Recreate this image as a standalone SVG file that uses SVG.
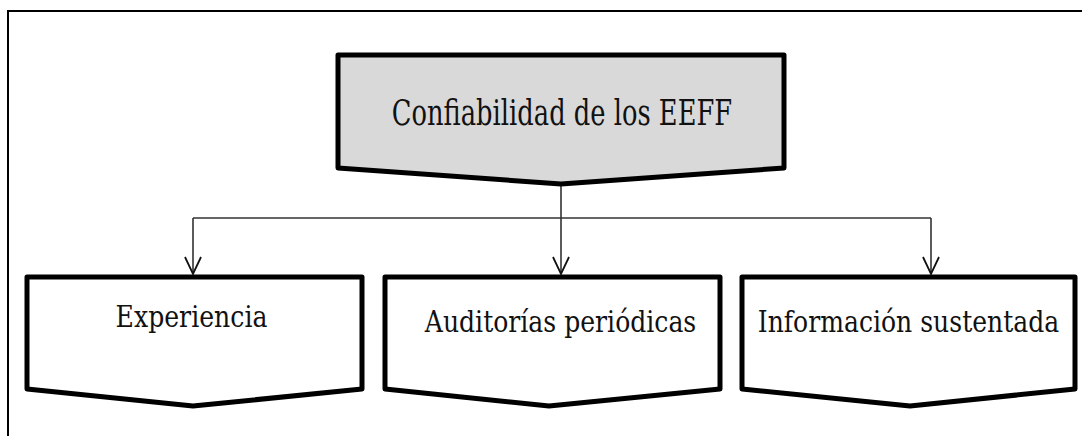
<svg xmlns="http://www.w3.org/2000/svg" width="1082" height="436" viewBox="0 0 1082 436">
<style>
.box{stroke:#000;stroke-width:5;stroke-linejoin:round}
.lbl{font-family:'DejaVu Serif','Liberation Serif',serif;fill:#111}
.t0{font-size:35px}
.t1{font-size:29px}
.con{fill:none;stroke:#333;stroke-width:1.6}
.ah{fill:none;stroke:#111;stroke-width:1.8}
</style>
<rect width="1082" height="436" fill="#fff"/>
<g id="frame"><path d="M8,436 V11 H1082" fill="none" stroke="#000" stroke-width="2"/></g>
<g id="connectors">
<path class="con" d="M561,184 V274"/>
<path class="con" d="M193,218 H931"/>
<path class="con" d="M193,218 V274"/>
<path class="con" d="M931,218 V274"/>
<path class="ah" d="M553,257 L561,274 L569,257"/>
<path class="ah" d="M185,257 L193,274 L201,257"/>
<path class="ah" d="M923,257 L931,274 L939,257"/>
</g>
<g id="n0">
<path class="box" fill="#d9d9d9" d="M338,55 H784 V168 L561,184 L338,168 Z"/>
<text class="lbl t0" transform="translate(562,125) scale(0.736,1)" text-anchor="middle">Confiabilidad de los EEFF</text>
</g>
<g id="n1">
<path class="box" fill="#fff" d="M27,277 H362 V389 L193,406 L27,389 Z"/>
<text class="lbl t1" transform="translate(191.5,327) scale(0.868,1)" text-anchor="middle">Experiencia</text>
</g>
<g id="n2">
<path class="box" fill="#fff" d="M385,277 H720 V389 L549,406 L385,389 Z"/>
<text class="lbl t1" transform="translate(560.5,332) scale(0.866,1)" text-anchor="middle">Auditorías periódicas</text>
</g>
<g id="n3">
<path class="box" fill="#fff" d="M742,277 H1075 V389 L910,406 L742,389 Z"/>
<text class="lbl t1" transform="translate(908.5,332) scale(0.865,1)" text-anchor="middle">Información sustentada</text>
</g>
</svg>
